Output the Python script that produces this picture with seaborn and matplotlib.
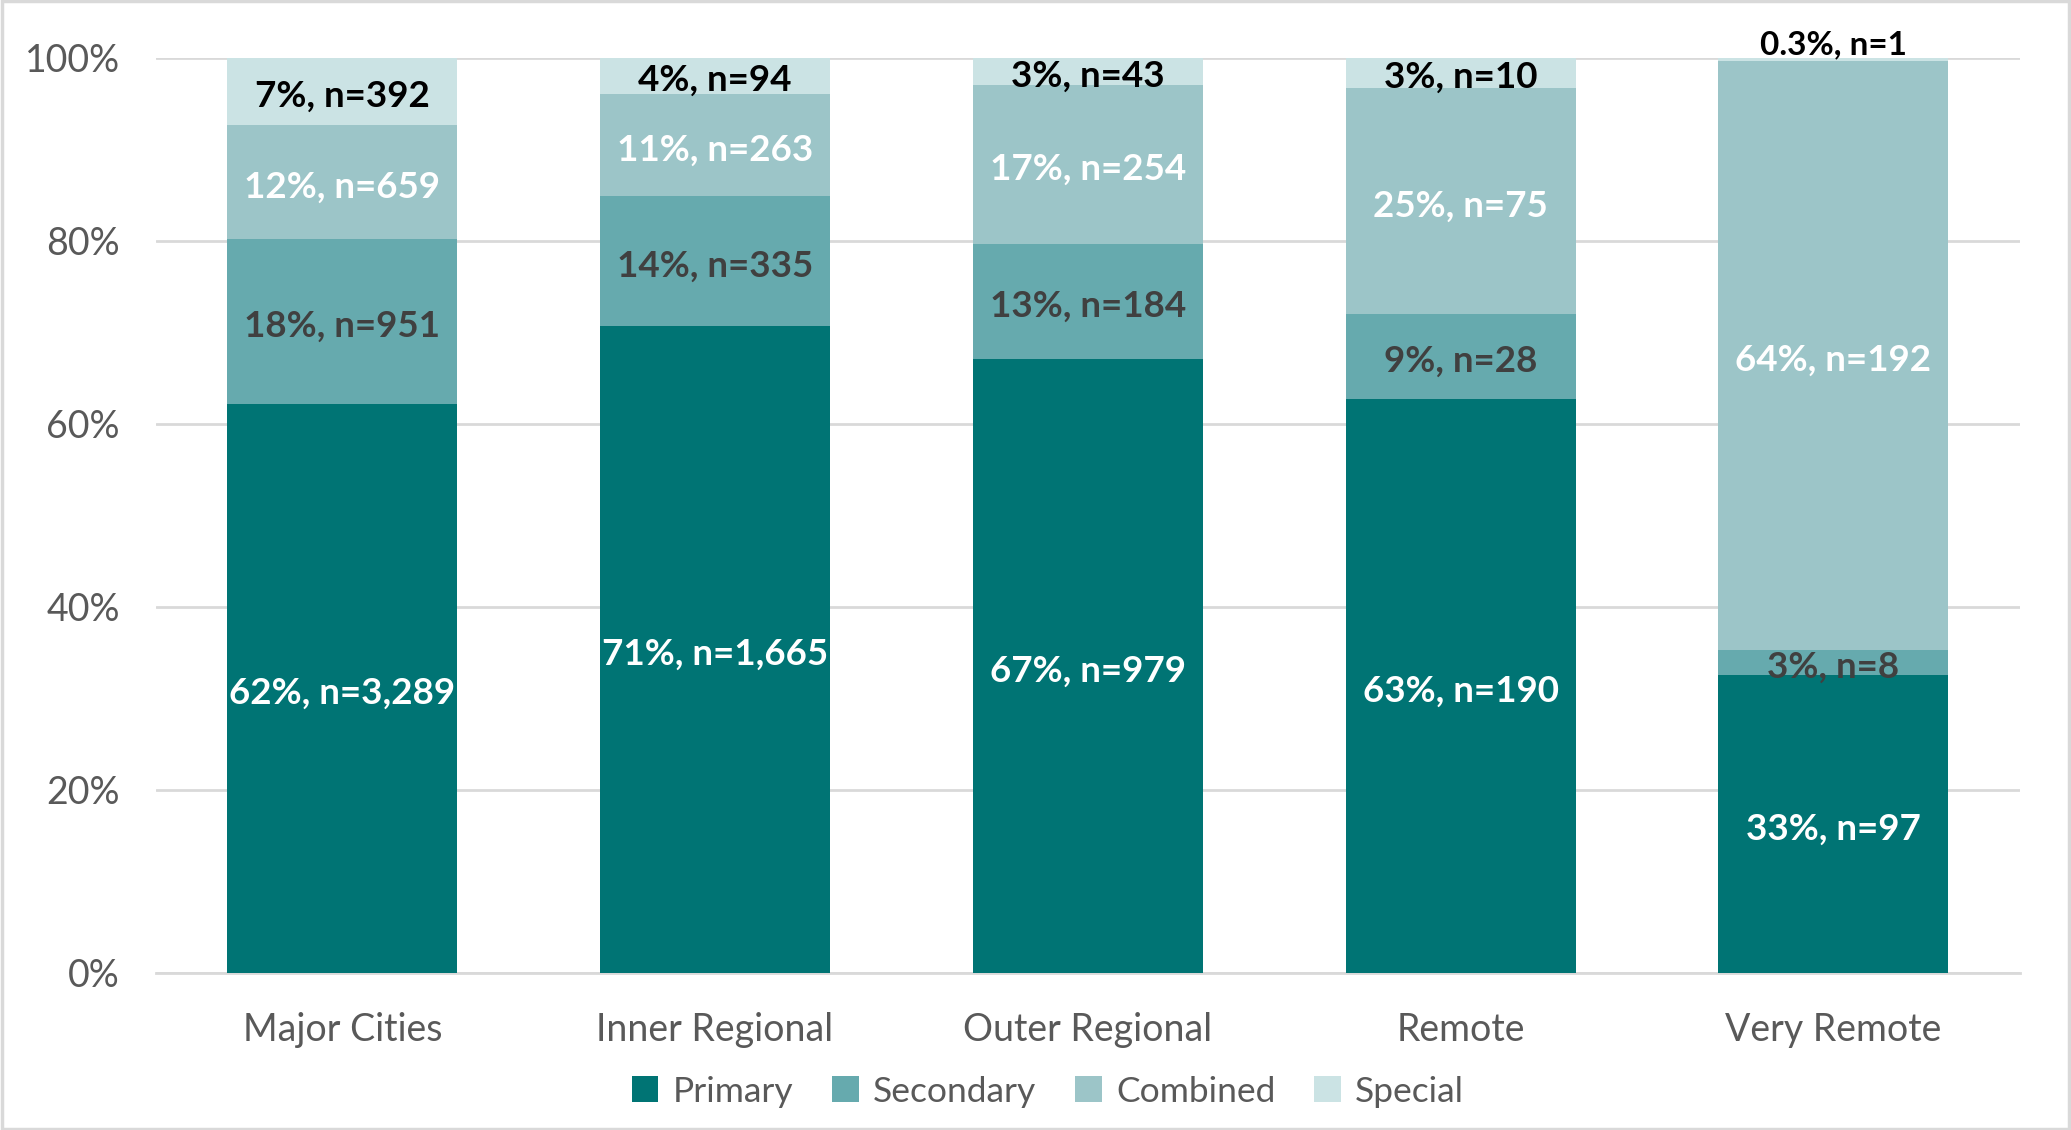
import matplotlib
matplotlib.use("Agg")
import matplotlib.pyplot as plt
import seaborn as sns
import numpy as np
import pandas as pd
from matplotlib.patches import Rectangle, Patch

categories = ["Major Cities", "Inner Regional", "Outer Regional", "Remote", "Very Remote"]
series = ["Primary", "Secondary", "Combined", "Special"]
primary_n = [3289, 1665, 979, 190, 97]
secondary_n = [951, 335, 184, 28, 8]
combined_n = [659, 263, 254, 75, 192]
special_n = [392, 94, 43, 10, 1]
primary_pct_lbl = ["62%", "71%", "67%", "63%", "33%"]
secondary_pct_lbl = ["18%", "14%", "13%", "9%", "3%"]
combined_pct_lbl = ["12%", "11%", "17%", "25%", "64%"]
special_pct_lbl = ["7%", "4%", "3%", "3%", "0.3%"]
y_ticks = [0, 20, 40, 60, 80, 100]
y_tick_labels = ["0%", "20%", "40%", "60%", "80%", "100%"]

colors = ["#007474", "#66AAAE", "#9CC5C8", "#CBE3E4"]
label_colors = ["white", "#404040", "white", "black"]

sns.set_theme(style="white")
plt.rcParams["font.family"] = ["Lato", "DejaVu Sans"]

counts = np.array([primary_n, secondary_n, combined_n, special_n], dtype=float)
totals = counts.sum(axis=0)
shares = counts / totals * 100
cum = np.cumsum(shares, axis=0)
pct_lbls = [primary_pct_lbl, secondary_pct_lbl, combined_pct_lbl, special_pct_lbl]

fig = plt.figure(figsize=(20.71, 11.30), dpi=100)
ax = fig.add_axes([0.0753, 0.139, 0.8999, 0.810])

for i in range(3, -1, -1):
    df = pd.DataFrame({"cat": categories, "val": cum[i]})
    sns.barplot(data=df, x="cat", y="val", color=colors[i], width=0.617,
                ax=ax, saturation=1, zorder=3, edgecolor="none", linewidth=0)

ax.set_xlim(-0.5, 4.5)
ax.set_ylim(0, 100)
ax.set_yticks(y_ticks)
ax.set_yticklabels(y_tick_labels)
ax.set_xlabel("")
ax.set_ylabel("")
ax.yaxis.grid(True, color="#D9D9D9", linewidth=2, zorder=0)
ax.set_axisbelow(True)
for s in ["top", "right", "left"]:
    ax.spines[s].set_visible(False)
ax.spines["bottom"].set_color("#D9D9D9")
ax.spines["bottom"].set_linewidth(2)
ax.tick_params(axis="both", length=0, labelsize=27, colors="#595959")
ax.tick_params(axis="x", pad=28)
ax.tick_params(axis="y", pad=26)

for i in range(4):
    for j in range(5):
        n = int(counts[i, j])
        txt = f"{pct_lbls[i][j]}, n={n:,}"
        bottom = cum[i][j] - shares[i][j]
        yc = bottom + shares[i][j] / 2
        if i == 3 and shares[i][j] < 1:
            ax.annotate(txt, (j, cum[i][j]), xytext=(0, -1.5), textcoords="offset points",
                        ha="center", va="bottom", fontsize=24, fontweight="bold",
                        color=label_colors[i], zorder=5)
        else:
            ax.annotate(txt, (j, yc), xytext=(0, -3.5), textcoords="offset points",
                        ha="center", va="center", fontsize=26.5,
                        fontweight="bold", color=label_colors[i], zorder=5)

handles = [Patch(facecolor=c, edgecolor="none", label=s) for c, s in zip(colors, series)]
fig.legend(handles=handles, loc="center", bbox_to_anchor=(0.506, 0.034), ncol=4,
           frameon=False, fontsize=25.5, handlelength=0.75, handleheight=0.75,
           handletextpad=0.4, columnspacing=1.1, labelcolor="#595959")

fig.patches.append(Rectangle((0.001, 0.001), 0.998, 0.998, transform=fig.transFigure,
                             fill=False, edgecolor="#D9D9D9", linewidth=2.5))

fig.savefig("out.png", dpi=100, facecolor="white")
